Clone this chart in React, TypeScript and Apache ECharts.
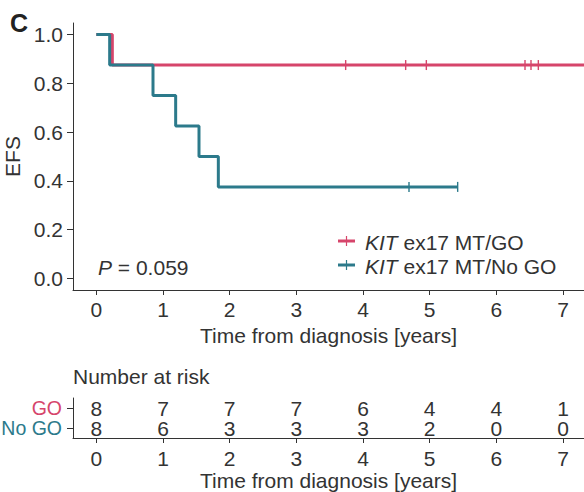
import React, { useEffect, useRef } from 'react';
import * as echarts from 'echarts';

const RED = '#d6456b';
const TEAL = '#2c7a8b';
const INK = '#333333';
const FONT = '"Liberation Sans", Arial, Helvetica, sans-serif';
const FS = 21;

// axes
const xTicks = [0, 1, 2, 3, 4, 5, 6, 7];
const yTicks = [0, 0.2, 0.4, 0.6, 0.8, 1.0];

// KIT ex17 MT / GO
const goTimes = [0, 0.24, 7.6];
const goSurv = [1, 0.875, 0.875];
const goCensorTimes = [3.74, 4.64, 4.95, 6.43, 6.52, 6.63];

// KIT ex17 MT / No GO
const noGoTimes = [0, 0.2, 0.85, 1.19, 1.54, 1.83, 5.42];
const noGoSurv = [1, 0.875, 0.75, 0.625, 0.5, 0.375, 0.375];
const noGoCensorTimes = [4.69, 5.42];

// number at risk
const riskGroups = ['No GO', 'GO'];
const riskGO = [8, 7, 7, 7, 6, 4, 4, 1];
const riskNoGO = [8, 6, 3, 3, 3, 2, 0, 0];

function survAt(times: number[], surv: number[], t: number) {
  let v = surv[0];
  for (let i = 0; i < times.length; i++) if (times[i] <= t) v = surv[i];
  return v;
}

const axisLineStyle = { color: INK, width: 1 };
const textBase = { color: INK, fontSize: FS, fontFamily: FONT };

export default function App() {
  const ref = useRef<HTMLDivElement>(null);
  useEffect(() => {
    if (!ref.current) return;
    const chart = echarts.init(ref.current, undefined, { renderer: 'svg' });
    const xAxisCommon = (grid: number, margin: number, gap: number) => ({
      gridIndex: grid,
      type: 'value',
      min: -0.35,
      max: 7.315,
      axisLine: { show: true, onZero: false, lineStyle: axisLineStyle },
      axisTick: { show: true, customValues: xTicks, length: 5, lineStyle: axisLineStyle },
      axisLabel: { customValues: xTicks, ...textBase, margin },
      splitLine: { show: false },
      name: 'Time from diagnosis [years]',
      nameLocation: 'middle',
      nameGap: gap,
      nameTextStyle: textBase,
    });
    const option: any = {
      animation: false,
      backgroundColor: '#ffffff',
      grid: [
        { left: 73, top: 23, width: 511, height: 267, outerBoundsMode: 'none', containLabel: false },
        { left: 73, top: 398, width: 511, height: 40, outerBoundsMode: 'none', containLabel: false },
      ],
      xAxis: [xAxisCommon(0, 9, 32), xAxisCommon(1, 10, 30.5)],
      yAxis: [
        {
          gridIndex: 0,
          type: 'value',
          min: -0.048,
          max: 1.0475,
          axisLine: { show: true, onZero: false, lineStyle: axisLineStyle },
          axisTick: { show: true, customValues: yTicks, length: 6, lineStyle: axisLineStyle },
          axisLabel: {
            customValues: yTicks,
            ...textBase,
            margin: 10,
            formatter: (v: number) => v.toFixed(1),
          },
          splitLine: { show: false },
          name: 'EFS',
          nameLocation: 'middle',
          nameGap: 42,
          nameTextStyle: textBase,
        },
        {
          gridIndex: 1,
          type: 'category',
          data: riskGroups,
          axisLine: { show: true, onZero: false, lineStyle: axisLineStyle },
          axisTick: { show: true, alignWithLabel: true, interval: 0, length: 6, lineStyle: axisLineStyle },
          axisLabel: {
            ...textBase,
            fontSize: 19.5,
            interval: 0,
            lineHeight: 16,
            margin: 11,
            color: (v: string) => (v === 'GO' ? RED : TEAL),
          },
          splitLine: { show: false },
        },
      ],
      series: [
        {
          type: 'line',
          xAxisIndex: 0,
          yAxisIndex: 0,
          step: 'end',
          symbol: 'none',
          data: goTimes.map((t, i) => [t, goSurv[i]]),
          lineStyle: { color: RED, width: 3 },
          z: 2,
        },
        {
          type: 'scatter',
          xAxisIndex: 0,
          yAxisIndex: 0,
          symbol: 'rect',
          symbolSize: [1.4, 10],
          itemStyle: { color: RED, opacity: 1 },
          data: goCensorTimes.map((t) => [t, survAt(goTimes, goSurv, t)]),
          z: 3,
        },
        {
          type: 'line',
          xAxisIndex: 0,
          yAxisIndex: 0,
          step: 'end',
          symbol: 'none',
          data: noGoTimes.map((t, i) => [t, noGoSurv[i]]),
          lineStyle: { color: TEAL, width: 3 },
          z: 4,
        },
        {
          type: 'scatter',
          xAxisIndex: 0,
          yAxisIndex: 0,
          symbol: 'rect',
          symbolSize: [1.4, 10],
          itemStyle: { color: TEAL, opacity: 1 },
          data: noGoCensorTimes.map((t) => [t, survAt(noGoTimes, noGoSurv, t)]),
          z: 5,
        },
        {
          type: 'scatter',
          xAxisIndex: 1,
          yAxisIndex: 1,
          symbol: 'circle',
          symbolSize: 0,
          itemStyle: { color: 'rgba(0,0,0,0)', opacity: 1 },
          label: {
            show: true,
            position: [0, 0],
            align: 'center',
            verticalAlign: 'middle',
            formatter: (p: any) => String(p.value[2]),
            ...textBase,
            lineHeight: 16,
            textBorderWidth: 0,
          },
          labelLayout: { hideOverlap: false },
          data: [
            ...riskGO.map((n, i) => [xTicks[i], riskGroups.indexOf('GO'), n]),
            ...riskNoGO.map((n, i) => [xTicks[i], riskGroups.indexOf('No GO'), n]),
          ],
        },
      ],
      graphic: [
        {
          type: 'text',
          x: 10,
          y: 23,
          style: { text: 'C', fill: '#222', font: `bold 25px ${FONT}`, verticalAlign: 'middle' },
        },
        {
          type: 'text',
          x: 98,
          y: 267,
          style: {
            text: '{i|P} = 0.059',
            fill: INK,
            font: `${FS}px ${FONT}`,
            verticalAlign: 'middle',
            rich: { i: { fontStyle: 'italic', fontSize: FS, fontFamily: FONT, fill: INK } },
          },
        },
        // legend
        { type: 'line', shape: { x1: 338, y1: 241, x2: 355, y2: 241 }, style: { stroke: RED, lineWidth: 3 } },
        { type: 'line', shape: { x1: 346.5, y1: 236, x2: 346.5, y2: 246 }, style: { stroke: RED, lineWidth: 1.2 } },
        { type: 'line', shape: { x1: 338, y1: 265, x2: 355, y2: 265 }, style: { stroke: TEAL, lineWidth: 3 } },
        { type: 'line', shape: { x1: 346.5, y1: 260, x2: 346.5, y2: 270 }, style: { stroke: TEAL, lineWidth: 1.2 } },
        {
          type: 'text',
          x: 365,
          y: 242,
          style: {
            text: '{i|KIT} ex17 MT/GO',
            fill: INK,
            font: `${FS}px ${FONT}`,
            verticalAlign: 'middle',
            rich: { i: { fontStyle: 'italic', fontSize: FS, fontFamily: FONT, fill: INK } },
          },
        },
        {
          type: 'text',
          x: 365,
          y: 266,
          style: {
            text: '{i|KIT} ex17 MT/No GO',
            fill: INK,
            font: `${FS}px ${FONT}`,
            verticalAlign: 'middle',
            rich: { i: { fontStyle: 'italic', fontSize: FS, fontFamily: FONT, fill: INK } },
          },
        },
        {
          type: 'text',
          x: 73,
          y: 376,
          style: { text: 'Number at risk', fill: INK, font: `${FS}px ${FONT}`, verticalAlign: 'middle' },
        },
      ],
    };
    chart.setOption(option);
    return () => chart.dispose();
  }, []);
  return (
    <div
      ref={ref}
      style={{ position: 'fixed', left: 0, top: 0, width: 584, height: 492, background: '#fff' }}
    />
  );
}
